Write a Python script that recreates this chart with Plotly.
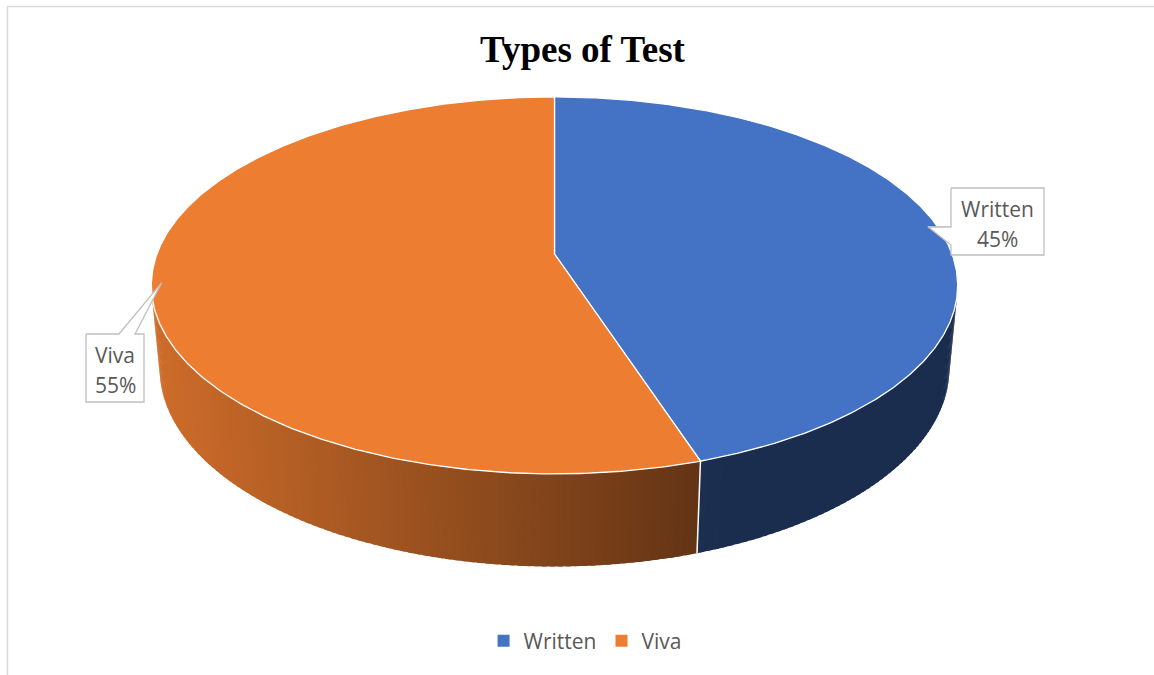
import numpy as np
import plotly.graph_objects as go

# ---- data -------------------------------------------------------------
categories = ["Written", "Viva"]
values = [45, 55]
top_colors = ["#4472C4", "#ED7D31"]

# ---- 3-D pie geometry (perspective view of a flat cylinder) ------------
W, H = 1154, 675
CX, APEX_Y = 554.5, 254.0      # screen position of the pie centre
TILT = np.radians(27.45)       # camera elevation
DIST = 5.33                    # camera distance in pie radii
FOCAL = 2119.0                 # projection scale in pixels
DEPTH = 0.237                  # slab thickness in pie radii
S, C = np.sin(TILT), np.cos(TILT)


def project(phi_deg, r=1.0, z=0.0):
    """Angle measured clockwise from 12 o'clock -> screen pixel coords."""
    phi = np.radians(phi_deg)
    X = r * np.sin(phi)
    Y = -r * np.cos(phi)
    d = DIST - (Y * C + z * S)
    v = -Y * S + z * C
    return CX + X * FOCAL / d, APEX_Y - v * FOCAL / d


def hex_rgb(h):
    h = h.lstrip("#")
    return np.array([int(h[i:i + 2], 16) for i in (0, 2, 4)], float)


def shade(hex_color, x):
    # side wall lit from the left, darker towards the right
    f = 0.87 - (x - 152.0) / (700.0 - 152.0) * 0.45
    f = max(0.40, min(0.88, f))
    r, g, b = (hex_rgb(hex_color) * f).clip(0, 255).astype(int)
    return f"rgb({r},{g},{b})"


total = float(sum(values))
bounds = np.concatenate([[0.0], np.cumsum(values) / total * 360.0])

fig = go.Figure()

# visible part of the side wall
vis_lo = np.degrees(np.arccos(-1.0 / (DIST * C)))
vis_hi = 360.0 - vis_lo

for i, col in enumerate(top_colors):
    a0, a1 = max(bounds[i], vis_lo), min(bounds[i + 1], vis_hi)
    if a1 <= a0:
        continue
    edges = np.linspace(a0, a1, int(np.ceil(a1 - a0)) + 1)
    step = edges[1] - edges[0]
    for p0, p1 in zip(edges[:-1], edges[1:]):
        # each strip overlaps its neighbour slightly so no seams show
        q1 = min(p1 + 0.6 * step, a1)
        arc = np.linspace(p0, q1, 4)
        xt, yt = project(arc)
        xb, yb = project(arc[::-1], z=-DEPTH)
        c = shade(col, float(np.mean(xt)))
        fig.add_trace(go.Scatter(
            x=np.concatenate([xt, xb, xt[:1]]), y=np.concatenate([yt, yb, yt[:1]]),
            mode="lines", fill="toself", fillcolor=c,
            line=dict(color=c, width=0), hoverinfo="skip", showlegend=False))

# white seams where slices meet on the side wall
for b in bounds[1:-1]:
    if vis_lo < b < vis_hi:
        x0, y0 = project(b)
        x1, y1 = project(b, z=-DEPTH)
        fig.add_trace(go.Scatter(x=[x0, x1], y=[y0, y1], mode="lines",
                                 line=dict(color="white", width=1.5),
                                 hoverinfo="skip", showlegend=False))

# top faces
for i, col in enumerate(top_colors):
    arc = np.linspace(bounds[i], bounds[i + 1], 400)
    xs, ys = project(arc)
    ax, ay = project(0.0, r=0.0)
    fig.add_trace(go.Scatter(
        x=np.concatenate([[ax], xs, [ax]]), y=np.concatenate([[ay], ys, [ay]]),
        mode="lines", fill="toself", fillcolor=col,
        line=dict(color="white", width=1.3), hoverinfo="skip", showlegend=False))

# data-label callouts
label_boxes = [  # (left, top, right, bottom) of each callout box
    (951, 188, 1044, 255),
    (86, 334, 144, 402),
]
for i, (name, (l, t, r, btm)) in enumerate(zip(categories, label_boxes)):
    mid = (bounds[i] + bounds[i + 1]) / 2
    tx, ty = project(mid, r=0.975)
    if tx > CX:   # pointer leaves from the left side of the box
        px = [l, r, r, l, l, tx, l, l]
        py = [t, t, btm, btm, 245, ty, 227, t]
    else:         # pointer leaves from the top of the box
        px = [l, 119, tx, 135, r, r, l, l]
        py = [t, t, ty, t, t, btm, btm, t]
    fig.add_trace(go.Scatter(x=px, y=py, mode="lines", fill="toself",
                             fillcolor="white",
                             line=dict(color="#BFBFBF", width=1.3),
                             hoverinfo="skip", showlegend=False))
    cxb = (l + r) / 2
    pct = f"{values[i] / total * 100:.0f}%"
    for txt, yy in ((name, t + 21), (pct, t + 51)):
        fig.add_annotation(x=cxb, y=yy, text=txt, showarrow=False,
                           xanchor="center", yanchor="middle",
                           font=dict(family="Open Sans", size=21, color="#595959"))

# legend entries
for name, col in zip(categories, top_colors):
    fig.add_trace(go.Scatter(x=[None], y=[None], mode="markers", name=name,
                             marker=dict(symbol="square", size=8, color=col)))

# outer chart-area border
fig.add_shape(type="rect", x0=7.5, y0=6.5, x1=W + 10, y1=H + 10,
              line=dict(color="#D9D9D9", width=1.5), layer="below")

fig.add_annotation(x=583, y=49, text="<b>Types of Test</b>", showarrow=False,
                   xanchor="center", yanchor="middle",
                   font=dict(family="Liberation Serif", size=37, color="black"))

fig.update_layout(
    width=W, height=H, margin=dict(l=0, r=0, t=0, b=0),
    paper_bgcolor="white", plot_bgcolor="white",
    xaxis=dict(range=[0, W], visible=False, fixedrange=True),
    yaxis=dict(range=[H, 0], visible=False, fixedrange=True),
    showlegend=True,
    legend=dict(orientation="h", x=0.507, xanchor="center",
                y=1 - 641 / H, yanchor="middle",
                font=dict(family="Open Sans", size=21, color="#595959"),
                itemsizing="constant", bgcolor="rgba(0,0,0,0)"),
)

fig.write_html("out.html")
